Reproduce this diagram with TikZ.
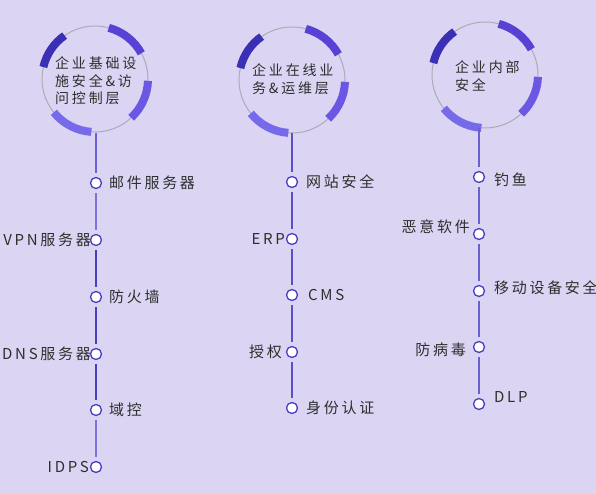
\documentclass[tikz,border=0pt]{standalone}
\usepackage{fontspec}
\setmainfont[LetterSpace=20]{Noto Sans CJK SC}
\newfontfamily\lblfont[LetterSpace=18]{Noto Sans CJK SC}
\definecolor{bg}{HTML}{DBD5F3}
\definecolor{txt}{HTML}{2E2E2E}
\definecolor{arcA}{HTML}{3B30B5}
\definecolor{arcB}{HTML}{5842D6}
\definecolor{arcC}{HTML}{6A58E4}
\definecolor{arcD}{HTML}{7669EA}
\definecolor{ring}{HTML}{ABABB5}
\definecolor{dotc}{HTML}{4A3DBF}
\definecolor{segL}{HTML}{7E73DD}
\definecolor{segM}{HTML}{6C60D6}
\definecolor{segD}{HTML}{4A3EBC}
\definecolor{segE}{HTML}{5C50C8}
\definecolor{segF}{HTML}{6A60CF}
\tikzset{
  dot/.style={circle,draw=dotc,fill=white,line width=1.3pt,minimum size=11pt,inner sep=0pt},
  lblR/.style={anchor=west,inner sep=0pt,text=txt,font=\lblfont\fontsize{15}{17}\selectfont},
  lblL/.style={anchor=east,inner sep=0pt,text=txt,font=\lblfont\fontsize{15}{17}\selectfont},
  title/.style={anchor=west,inner sep=0pt,align=left,text=txt,font=\fontsize{14}{17.5}\selectfont},
  seg/.style={line width=1.8pt,shorten >=4pt,shorten <=4pt},
  thick arc/.style={line width=8pt},
  ringline/.style={draw=ring,line width=1pt}
}
\newcommand{\ringset}[1]{%
  \draw[ringline] (#1) circle (53);
  \draw[thick arc,arcA] ([shift={(-125:53)}]#1) arc (-125:-167:53);
  \draw[thick arc,arcB] ([shift={(-29:53)}]#1) arc (-29:-75:53);
  \draw[thick arc,arcC] ([shift={(47:53)}]#1) arc (47:2:53);
  \draw[thick arc,arcD] ([shift={(141:53)}]#1) arc (141:94:53);
}
\begin{document}
\begin{tikzpicture}[x=1pt,y=-1pt]
\useasboundingbox (0,0) rectangle (596,494);
\fill[bg] (0,0) rectangle (596,494);

% big circles
\coordinate (c1) at (95,79);
\coordinate (c2) at (292,80);
\coordinate (c3) at (485,75);
\ringset{c1}
\ringset{c2}
\ringset{c3}
\node[title] (t1) at (55,81) {企业基础设\\施安全\&访\\问控制层};
\node[title] (t2) at (252,79) {企业在线业\\务\&运维层};
\node[title] (t3) at (455,76) {企业内部\\安全};
\coordinate (b1) at (96,133);
\coordinate (b2) at (292,133);
\coordinate (b3) at (479,128);

% column 1
\node[dot] (a1) at (96,183) {};
\node[dot] (a2) at (96,240) {};
\node[dot] (a3) at (96,297) {};
\node[dot] (a4) at (96,354) {};
\node[dot] (a5) at (96,410) {};
\node[dot] (a6) at (96,467) {};
\draw[seg,segM,shorten <=0pt] (b1) -- (a1);
\draw[seg,segL] (a1) -- (a2);
\draw[seg,segD] (a2) -- (a3);
\draw[seg,segD] (a3) -- (a4);
\draw[seg,segD] (a4) -- (a5);
\draw[seg,segL] (a5) -- (a6);
\node[lblR] (la1) at (109,183) {邮件服务器};
\node[lblL] (la2) at (91,240) {VPN服务器};
\node[lblR] (la3) at (109,297) {防火墙};
\node[lblL] (la4) at (91,354) {DNS服务器};
\node[lblR] (la5) at (109,410) {域控};
\node[lblL] (la6) at (89,467) {IDPS};

% column 2
\node[dot] (m1) at (292,182) {};
\node[dot] (m2) at (292,239) {};
\node[dot] (m3) at (292,295) {};
\node[dot] (m4) at (292,352) {};
\node[dot] (m5) at (292,408) {};
\draw[seg,segE,shorten <=0pt] (b2) -- (m1);
\draw[seg,segE] (m1) -- (m2);
\draw[seg,segE] (m2) -- (m3);
\draw[seg,segE] (m3) -- (m4);
\draw[seg,segE] (m4) -- (m5);
\node[lblR] (lm1) at (306,182) {网站安全};
\node[lblL] (lm2) at (285,239) {ERP};
\node[lblR] (lm3) at (308,295) {CMS};
\node[lblL] (lm4) at (282,352) {授权};
\node[lblR] (lm5) at (306,408) {身份认证};

% column 3
\node[dot] (r1) at (479,177) {};
\node[dot] (r2) at (479,234) {};
\node[dot] (r3) at (479,291) {};
\node[dot] (r4) at (479,347) {};
\node[dot] (r5) at (479,404) {};
\draw[seg,segF,shorten <=0pt] (b3) -- (r1);
\draw[seg,segF] (r1) -- (r2);
\draw[seg,segF] (r2) -- (r3);
\draw[seg,segF] (r3) -- (r4);
\draw[seg,segF] (r4) -- (r5);
\node[lblR] (lr1) at (494,180) {钓鱼};
\node[lblL] (lr2) at (470,227) {恶意软件};
\node[lblR] (lr3) at (494,288) {移动设备安全};
\node[lblL] (lr4) at (466,350) {防病毒};
\node[lblR] (lr5) at (494,397) {DLP};
\end{tikzpicture}
\end{document}
